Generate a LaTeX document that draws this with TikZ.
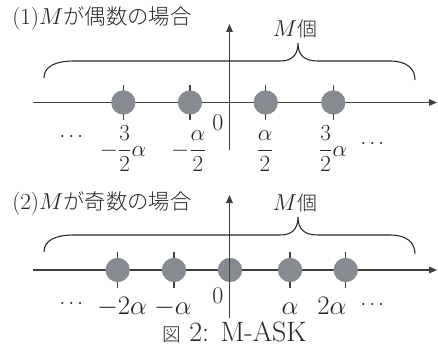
\RequirePackage{fix-cm}
\documentclass[tikz,border=0pt]{standalone}
\usepackage{amsmath}
\usepackage{graphicx}
\usepackage{fontspec}
\newfontfamily\cjk{Noto Sans CJK JP Light}
\newcommand{\mymath}[1]{\scalebox{1.16}{$#1$}}
\usetikzlibrary{arrows.meta}
\definecolor{linec}{HTML}{404040}
\definecolor{dotc}{HTML}{868B91}
\definecolor{txtc}{HTML}{262626}
\begin{document}
\begin{tikzpicture}[x=0.75pt,y=-0.75pt,
  axis/.style={draw=linec,line width=0.9pt},
  arr/.style={-{Triangle[length=6pt,width=5pt]}},
  pt/.style={circle,fill=dotc,minimum size=18pt,inner sep=0pt},
  tickmark/.style={draw=linec,line width=0.9pt},
  brace/.style={draw=txtc,line width=0.8pt},
  lbl/.style={inner sep=0pt,text=txtc,font=\fontsize{17.28}{20}\selectfont},
  zero/.style={inner sep=0pt,text=txtc,font=\fontsize{18}{20}\selectfont},
  dts/.style={inner sep=0pt,text=txtc,font=\fontsize{15}{17}\selectfont},
  ttl/.style={inner sep=0pt,anchor=west,text=txtc,font=\fontsize{17.28}{20}\selectfont},
  cnt/.style={inner sep=0pt,text=txtc,font=\fontsize{17.28}{20}\selectfont},
]
\useasboundingbox (0,0) rectangle (438,349);

% ---------- panel 1 ----------
\node[ttl] (t1) at (12,18) {(1)$M${\cjk\fontsize{16}{18}\selectfont が偶数の場合}};
\coordinate (h1s) at (33,102.5);
\coordinate (h1e) at (437,102.5);
\coordinate (v1s) at (229.5,150);
\coordinate (v1e) at (229.5,24);
\draw[axis,arr] (h1s) -- (h1e);
\node[pt] (p11) at (123.3,102.5) {};
\node[pt] (p12) at (190,102.5) {};
\node[pt] (p13) at (265.7,102.5) {};
\node[pt] (p14) at (333.3,102.5) {};
\foreach \n in {p11,p12,p13,p14}{
  \draw[tickmark] (\n.center) ++(0,-17.5) -- ++(0,35);
}
\foreach \n in {p11,p12,p13,p14}{
  \node[pt] at (\n) {};
}
\draw[axis,arr] (v1s) -- (v1e);
\draw[brace] (44,78) .. controls (44,66) and (56,61) .. (74,61) -- (280,61)
  .. controls (292,61) and (298,55) .. (298,43)
  .. controls (298,55) and (304,61) .. (318,61) -- (390,61)
  .. controls (406,61) and (415,68) .. (415,80);
\node[cnt] (m1) at (295,29) {$M${\cjk\fontsize{15}{17}\selectfont 個}};
\node[dts] (c11) at (73,137) {$\cdots$};
\node[lbl,anchor=base] (l11) at (123,156) {$-\dfrac{3}{2}\alpha$};
\node[lbl,anchor=base] (l12) at (189,156) {$-\dfrac{\alpha}{2}$};
\node[zero] (z1) at (218,123) {0};
\node[lbl,anchor=base] (l13) at (265,156) {$\dfrac{\alpha}{2}$};
\node[lbl,anchor=base] (l14) at (333,156) {$\dfrac{3}{2}\alpha$};
\node[dts] (c12) at (374,144) {$\cdots$};

% ---------- panel 2 ----------
\node[ttl] (t2) at (12,203) {(2)$M${\cjk\fontsize{16}{18}\selectfont が奇数の場合}};
\coordinate (h2s) at (33,270);
\coordinate (h2e) at (437,270);
\coordinate (v2s) at (229.5,318);
\coordinate (v2e) at (229.5,195);
\draw[axis,arr] (h2s) -- (h2e);
\node[pt] (p21) at (117.7,270) {};
\node[pt] (p22) at (174,270) {};
\node[pt] (p23) at (230,270) {};
\node[pt] (p24) at (290,270) {};
\node[pt] (p25) at (345.7,270) {};
\foreach \n in {p21,p22,p24,p25}{
  \draw[tickmark] (\n.center) ++(0,-18) -- ++(0,36);
}
\foreach \n in {p21,p22,p23,p24,p25}{
  \node[pt] at (\n) {};
}
\draw[axis,arr] (v2s) -- (v2e);
\draw[brace] (44,252) .. controls (44,240) and (56,235) .. (74,235) -- (280,235)
  .. controls (292,235) and (298,229) .. (298,217)
  .. controls (298,229) and (304,235) .. (318,235) -- (390,235)
  .. controls (406,235) and (415,242) .. (415,254);
\node[cnt] (m2) at (295,203) {$M${\cjk\fontsize{15}{17}\selectfont 個}};
\node[dts] (c21) at (73,304) {$\cdots$};
\node[lbl,anchor=base] (l21) at (122,314) {\mymath{-2\alpha}};
\node[lbl,anchor=base] (l22) at (173,314) {\mymath{-\alpha}};
\node[zero] (z2) at (218,296) {0};
\node[lbl,anchor=base] (l24) at (290,314) {\mymath{\alpha}};
\node[lbl,anchor=base] (l25) at (332,314) {\mymath{2\alpha}};
\node[dts] (c22) at (374,305) {$\cdots$};

% ---------- caption ----------
\node[inner sep=0pt,anchor=base west,text=txtc,font=\fontsize{21}{23}\selectfont] (cap) at (162,341)
  {{\cjk\fontsize{14}{16}\selectfont 図} 2: M-ASK};
\end{tikzpicture}
\end{document}
